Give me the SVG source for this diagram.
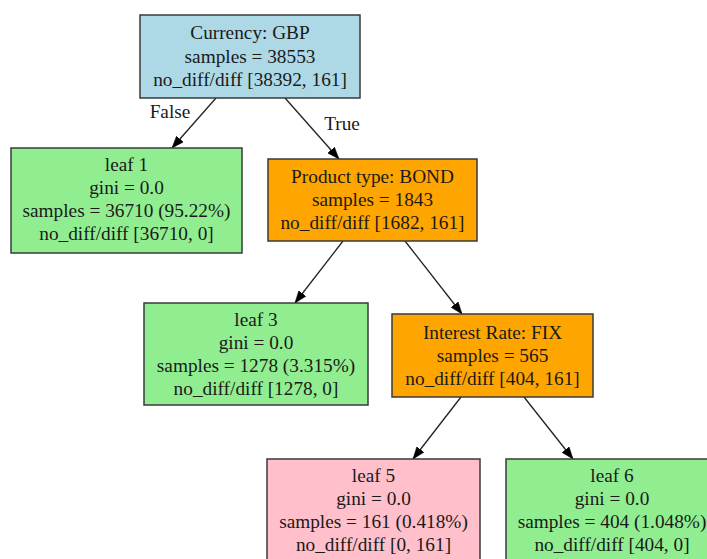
<svg xmlns="http://www.w3.org/2000/svg" width="707" height="559" viewBox="0 0 707 559">
<style>
  .box { stroke: #3a3a3a; stroke-width: 1.5; }
  .t { font-family: "Liberation Serif", "Times New Roman", serif; font-size: 19.3px; fill: #1a1a1a; text-anchor: middle; }
  .edge { stroke: #222; stroke-width: 1.3; fill: none; marker-end: url(#arr); }
  .blue { fill: #add8e6; }
  .green { fill: #90ee90; }
  .orange { fill: #ffa500; }
  .pink { fill: #ffc0cb; }
</style>
<defs>
  <marker id="arr" viewBox="0 0 12 9" refX="12" refY="4.5" markerWidth="12" markerHeight="9" markerUnits="userSpaceOnUse" orient="auto">
    <path d="M0,0 L12,4.5 L0,9 z" fill="#000" stroke="#000" stroke-width="0.5"/>
  </marker>
</defs>
<rect width="707" height="559" fill="#fff"/>
<g id="connectors">
  <line class="edge" x1="216" y1="98" x2="172" y2="148"/>
  <line class="edge" x1="285" y1="98" x2="339" y2="159"/>
  <line class="edge" x1="343" y1="241" x2="295" y2="303"/>
  <line class="edge" x1="405" y1="241" x2="462" y2="314"/>
  <line class="edge" x1="461" y1="397" x2="413" y2="459"/>
  <line class="edge" x1="524" y1="397" x2="573" y2="459"/>
  <text class="t" x="170" y="118">False</text>
  <text class="t" x="342" y="130">True</text>
</g>
<g id="node0">
  <rect class="box blue" x="140" y="15" width="220" height="83"/>
  <text class="t" x="250" y="39">Currency: GBP</text>
  <text class="t" x="250" y="62.5">samples = 38553</text>
  <text class="t" x="250" y="86">no_diff/diff [38392, 161]</text>
</g>
<g id="node1">
  <rect class="box green" x="11" y="148" width="231" height="105"/>
  <text class="t" x="126.5" y="171">leaf 1</text>
  <text class="t" x="126.5" y="194">gini = 0.0</text>
  <text class="t" x="126.5" y="217">samples = 36710 (95.22%)</text>
  <text class="t" x="126.5" y="240">no_diff/diff [36710, 0]</text>
</g>
<g id="node2">
  <rect class="box orange" x="268" y="159" width="209" height="82"/>
  <text class="t" x="372.5" y="183">Product type: BOND</text>
  <text class="t" x="372.5" y="206">samples = 1843</text>
  <text class="t" x="372.5" y="229">no_diff/diff [1682, 161]</text>
</g>
<g id="node3">
  <rect class="box green" x="144" y="303" width="224" height="102"/>
  <text class="t" x="256" y="326">leaf 3</text>
  <text class="t" x="256" y="349">gini = 0.0</text>
  <text class="t" x="256" y="372">samples = 1278 (3.315%)</text>
  <text class="t" x="256" y="395">no_diff/diff [1278, 0]</text>
</g>
<g id="node4">
  <rect class="box orange" x="392" y="314" width="201" height="83"/>
  <text class="t" x="492.5" y="338.5">Interest Rate: FIX</text>
  <text class="t" x="492.5" y="361.5">samples = 565</text>
  <text class="t" x="492.5" y="384.5">no_diff/diff [404, 161]</text>
</g>
<g id="node5">
  <rect class="box pink" x="267" y="459" width="213" height="104"/>
  <text class="t" x="373.5" y="482">leaf 5</text>
  <text class="t" x="373.5" y="505">gini = 0.0</text>
  <text class="t" x="373.5" y="528">samples = 161 (0.418%)</text>
  <text class="t" x="373.5" y="551">no_diff/diff [0, 161]</text>
</g>
<g id="node6">
  <rect class="box green" x="506" y="459" width="212" height="104"/>
  <text class="t" x="612" y="482">leaf 6</text>
  <text class="t" x="612" y="505">gini = 0.0</text>
  <text class="t" x="612" y="528">samples = 404 (1.048%)</text>
  <text class="t" x="612" y="551">no_diff/diff [404, 0]</text>
</g>
</svg>
